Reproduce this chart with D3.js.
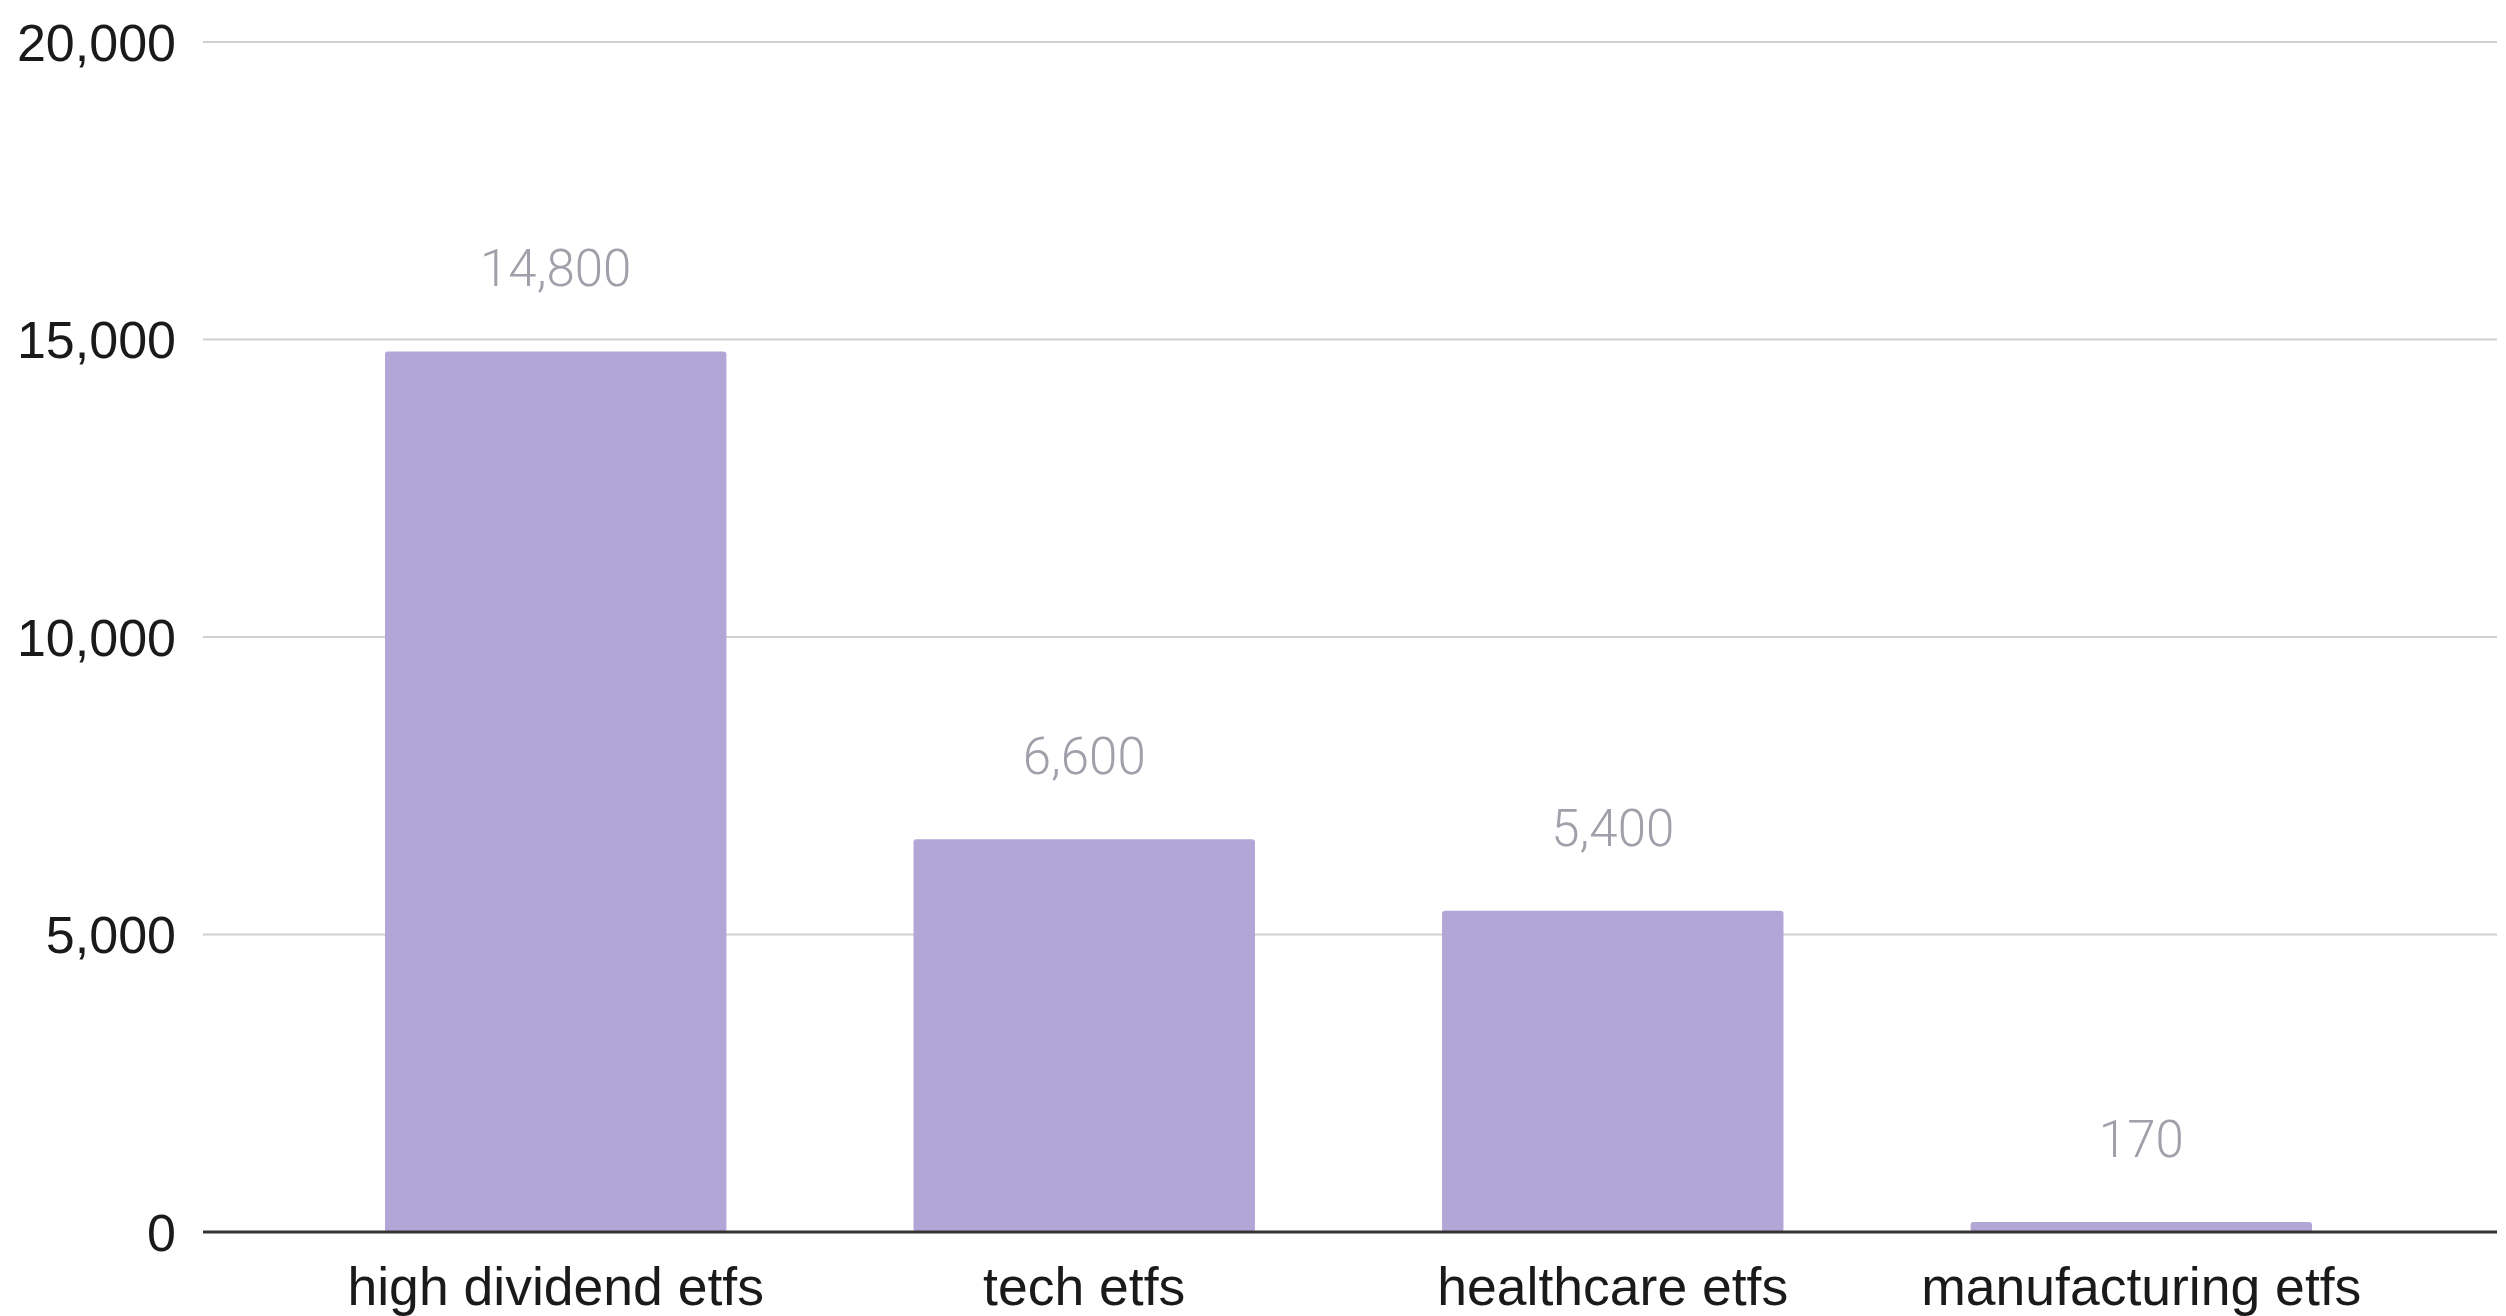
<!DOCTYPE html>
<html>
<head>
<meta charset="utf-8">
<script src="https://cdn.jsdelivr.net/npm/d3@7"></script>
<style>
  body { margin: 0; background: #fff; }
</style>
</head>
<body>
<div id="chart"></div>
<script>
const categories = ["high dividend etfs", "tech etfs", "healthcare etfs", "manufacturing etfs"];
const values = [14800, 6600, 5400, 170];
const yTicks = [0, 5000, 10000, 15000, 20000];

const width = 2506, height = 1316;
const margin = { top: 42, right: 9, bottom: 84, left: 203 };

const svg = d3.select("#chart")
    .append("svg")
    .attr("width", width)
    .attr("height", height);

const x = d3.scaleBand()
    .domain(categories)
    .range([200, width - margin.right])
    .paddingInner(0.354)
    .paddingOuter(0.35);

const y = d3.scaleLinear()
    .domain([0, 20000])
    .range([height - margin.bottom, margin.top]);

const fmt = d3.format(",");

// gridlines
svg.append("g")
    .selectAll("line")
    .data(yTicks.filter(d => d > 0))
    .enter()
    .append("line")
    .attr("x1", margin.left)
    .attr("x2", width - margin.right)
    .attr("y1", d => y(d))
    .attr("y2", d => y(d))
    .attr("stroke", "#cfcfcf")
    .attr("stroke-width", 2);

// y labels
svg.append("g")
    .selectAll("text")
    .data(yTicks)
    .enter()
    .append("text")
    .attr("x", 176)
    .attr("y", d => y(d))
    .attr("dy", "0.36em")
    .attr("text-anchor", "end")
    .style("font-family", "'Liberation Sans', Arial, sans-serif")
    .style("font-size", "52px")
    .attr("fill", "#1a1a1a")
    .text(d => fmt(d));

// bars
svg.append("g")
    .selectAll("rect")
    .data(values)
    .enter()
    .append("rect")
    .attr("x", (d, i) => x(categories[i]))
    .attr("y", d => y(d))
    .attr("width", x.bandwidth())
    .attr("height", d => y(0) - y(d))
    .attr("rx", 3)
    .attr("fill", "#b1a6d5");

// value labels
svg.append("g")
    .selectAll("text")
    .data(values)
    .enter()
    .append("text")
    .attr("x", (d, i) => x(categories[i]) + x.bandwidth() / 2)
    .attr("y", d => y(d) - 65)
    .attr("text-anchor", "middle")
    .style("font-family", "Roboto, 'Liberation Sans', sans-serif")
    .style("font-size", "51px")
    .style("font-weight", 300)
    .attr("fill", "#a0a0ab")
    .text(d => fmt(d));

// baseline
svg.append("line")
    .attr("x1", margin.left)
    .attr("x2", width - margin.right)
    .attr("y1", y(0))
    .attr("y2", y(0))
    .attr("stroke", "#333")
    .attr("stroke-width", 3);

// category labels
svg.append("g")
    .selectAll("text")
    .data(categories)
    .enter()
    .append("text")
    .attr("x", d => x(d) + x.bandwidth() / 2)
    .attr("y", 1305)
    .attr("text-anchor", "middle")
    .style("font-family", "'Liberation Sans', Arial, sans-serif")
    .style("font-size", "53.5px")
    .attr("fill", "#1a1a1a")
    .text(d => d);
</script>
</body>
</html>
